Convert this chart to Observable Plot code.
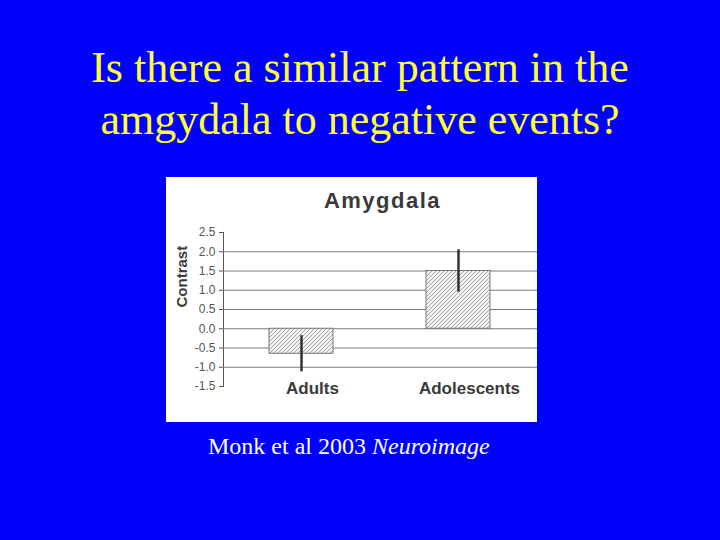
<!DOCTYPE html>
<html>
<head>
<meta charset="utf-8">
<script src="https://cdn.jsdelivr.net/npm/d3@7"></script>
<script src="https://cdn.jsdelivr.net/npm/@observablehq/plot@0.6"></script>
<style>
  html, body { margin: 0; padding: 0; }
  body { width: 720px; height: 540px; background: #0000ff; position: relative; overflow: hidden; }
  #slide-title {
    position: absolute; left: 0; top: 42px; width: 720px; text-align: center;
    font-family: "Liberation Serif", "Times New Roman", serif; font-size: 44px; line-height: 52px;
    color: #ffff33;
  }
  #panel { position: absolute; left: 166px; top: 177px; width: 371px; height: 245px; background: #fff; }
  #chart-title {
    position: absolute; left: 0; top: 11px; width: 100%; text-align: center; padding-left: 62px; box-sizing: border-box;
    font-family: Arial, "Liberation Sans", sans-serif; font-weight: bold; font-size: 22px; line-height: 26px;
    letter-spacing: 1.5px; color: #3a3a3a;
  }
  #chart { position: absolute; left: 0; top: 0; }
  #caption {
    position: absolute; left: 208px; top: 432px;
    font-family: "Liberation Serif", "Times New Roman", serif; font-size: 24px; line-height: 28px; color: #fff;
  }
</style>
</head>
<body>
<div id="slide-title">Is there a similar pattern in the<br>amgydala to negative events?</div>
<div id="panel">
  <div id="chart"></div>
  <div id="chart-title">Amygdala</div>
</div>
<div id="caption">Monk et al 2003 <i>Neuroimage</i></div>
<script>
const groups = ["Adults", "Adolescents"];
const contrast = [-0.65, 1.5];
const errLow = [-1.12, 0.95];
const errHigh = [-0.18, 2.05];
const yTicks = [-1.5, -1.0, -0.5, 0.0, 0.5, 1.0, 1.5, 2.0, 2.5];
const gridLines = [-1.0, -0.5, 0.0, 0.5, 1.0, 1.5, 2.0];
const yLabel = "Contrast";

const data = groups.map((g, i) => ({group: g, value: contrast[i], lo: errLow[i], hi: errHigh[i]}));

const svg = Plot.plot({
  width: 371,
  height: 245,
  marginLeft: 57,
  marginRight: 0,
  marginTop: 55,
  marginBottom: 36,
  style: {background: "white", fontFamily: "Arial, 'Liberation Sans', sans-serif", fontSize: "12px", color: "#555"},
  x: {domain: groups, paddingInner: 0.59, paddingOuter: 0.295, axis: null},
  y: {domain: [-1.5, 2.5], ticks: yTicks, tickFormat: d => d.toFixed(1), tickSize: 4, tickPadding: 4, line: true, label: null},
  marks: [
    Plot.ruleY(gridLines, {stroke: "#7a7a7a", strokeWidth: 1}),
    Plot.barY(data, {x: "group", y: "value", fill: "url(#hatch)", stroke: "#777", strokeWidth: 1}),
    Plot.ruleX(data, {x: "group", y1: "lo", y2: "hi", stroke: "#333", strokeWidth: 2.5}),
    Plot.text(groups, {x: d => d, frameAnchor: "bottom", dy: 7, dx: 11, fontSize: 17, fontWeight: "bold", fill: "#3a3a3a", style: "letter-spacing:1px"}),
    Plot.text([yLabel], {frameAnchor: "left", rotate: -90, dx: -41, dy: -2, fontSize: 15, fontWeight: "bold", fill: "#3a3a3a"})
  ]
});

const defs = d3.select(svg).insert("defs", ":first-child");
const pat = defs.append("pattern")
  .attr("id", "hatch")
  .attr("patternUnits", "userSpaceOnUse")
  .attr("width", 4).attr("height", 4);
pat.append("rect").attr("width", 4).attr("height", 4).attr("fill", "#f3f3f3");
pat.append("path")
  .attr("d", "M-1,1 l2,-2 M0,4 l4,-4 M3,5 l2,-2")
  .attr("stroke", "#9a9a9a").attr("stroke-width", 0.9);

document.getElementById("chart").appendChild(svg);
</script>
</body>
</html>
